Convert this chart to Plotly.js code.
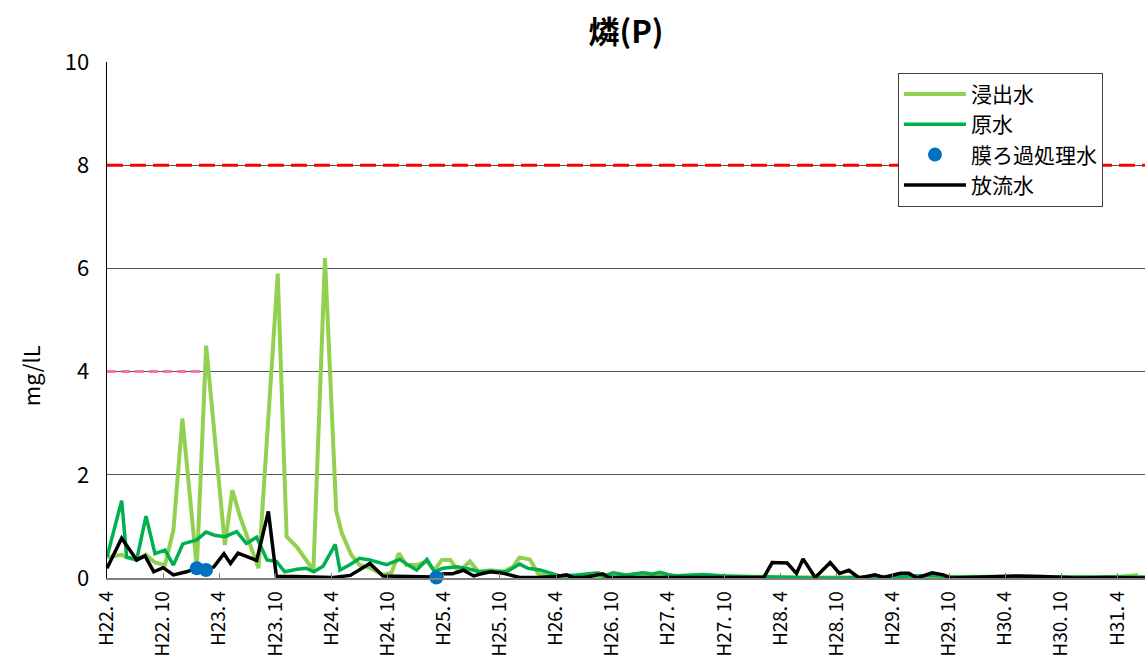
<!DOCTYPE html>
<html>
<head>
<meta charset="utf-8">
<script src="https://cdn.plot.ly/plotly-3.0.1.min.js"></script>
<style>html,body{margin:0;padding:0;background:#fff;}#chart{width:1145px;height:657px;}</style>
</head>
<body>
<div id="chart"></div>
<script>
// x values: months elapsed since H22.4
const tickLabels = ["H22. 4","H22. 10","H23. 4","H23. 10","H24. 4","H24. 10","H25. 4","H25. 10","H26. 4","H26. 10","H27. 4","H27. 10","H28. 4","H28. 10","H29. 4","H29. 10","H30. 4","H30. 10","H31. 4"];
const tickMonths = [0,6,12,18,24,30,36,42,48,54,60,66,72,78,84,90,96,102,108];

// 浸出水
const leachX = [0,1.57,2.1,3.17,4.17,5.13,6.2,7.1,8.06,9.6,10.6,12.6,13.4,14.2,16.2,18.25,19.2,20.3,22.06,23.3,24.5,25.1,26.1,27,28.1,29.5,30.4,31.2,32,33.1,34.2,35,35.8,36.7,37.6,38.8,39.7,41,42.4,43.4,44.1,45.2,46.1,47.4,48.5,50,52,54,56,58,59,61,64,67,70,73,76,79,82,85,88,91,94,97,100,103,106,108.5,110.2];
const leachY = [0.4,0.45,0.4,0.35,0.45,0.3,0.25,0.93,3.09,0.2,4.5,0.64,1.7,1.2,0.19,5.9,0.8,0.6,0.15,6.2,1.3,0.87,0.45,0.25,0.2,0.06,0.1,0.48,0.25,0.25,0.32,0.15,0.35,0.35,0.12,0.32,0.12,0.15,0.12,0.22,0.4,0.36,0.08,0.03,0.03,0.02,0.02,0.03,0.02,0.05,0.08,0.04,0.05,0.03,0.02,0.02,0.01,0.01,0.02,0.02,0.04,0.02,0.03,0.03,0.02,0.02,0.01,0.03,0.06];

// 原水
const rawX = [0,1.57,2.1,3.17,4.17,5.13,6.2,7.1,8.1,9.6,10.58,11.5,12.6,13.86,14.9,16,17.1,18.1,19,20.3,21.3,22.1,23.1,24.4,24.9,26,27,28.1,29.9,31.3,32.2,33.1,34.2,35,35.9,37.4,38.8,39.8,41,42.7,44.1,45,46.3,47.4,48.4,50.2,52.5,53,54.1,55.5,57.3,58.3,59.1,60.5,63.7,66,68,70.2,72,75,78,80.5,83,86,88.4,90,93,96,99,102,105,108,111];
const rawY = [0.41,1.5,0.41,0.35,1.2,0.47,0.54,0.25,0.66,0.74,0.89,0.83,0.8,0.9,0.67,0.79,0.35,0.32,0.12,0.17,0.19,0.12,0.23,0.65,0.155,0.26,0.38,0.35,0.26,0.36,0.25,0.155,0.36,0.12,0.19,0.22,0.17,0.12,0.13,0.12,0.27,0.19,0.155,0.09,0.04,0.06,0.1,0.03,0.1,0.06,0.1,0.08,0.11,0.04,0.07,0.04,0.03,0.02,0,0,0,0.01,0.03,0.03,0.05,0.02,0.02,0.01,0.02,0.01,0.01,0.01,0.02];

// 膜ろ過処理水
const membraneX = [9.6,10.58,35.2];
const membraneY = [0.19,0.155,0.01];

// 放流水
const outX = [0,1.57,3.17,4.06,5.0,6.0,7.1,8.5,9.6,11.4,12.5,13.2,14.0,16.0,17.25,18.1,20,22,24.2,26,28.1,29.5,31,33,35,36,36.9,38.1,39.2,40,41,42.4,44.1,46,48,49.1,49.8,51,53,53.6,55,58,62,66,70.2,71.1,72.7,73.7,74.4,75.7,77.3,78.3,79.3,80.4,82.1,83,84.8,85.7,86.6,88.2,89.4,90.2,93,97.2,100,103.6,107,111];
const outY = [0.19,0.77,0.35,0.43,0.12,0.2,0.06,0.12,0.19,0.21,0.47,0.28,0.48,0.34,1.29,0.03,0.03,0.02,0.01,0.05,0.28,0.04,0.03,0.02,0.02,0.08,0.08,0.15,0.04,0.08,0.12,0.09,0.01,0.01,0.03,0.06,0.01,0.01,0.08,0.01,0.01,0.01,0.01,0.01,0.01,0.3,0.29,0.09,0.37,0.01,0.3,0.09,0.15,0,0.06,0.01,0.09,0.09,0,0.1,0.06,0,0.01,0.04,0.03,0,0.01,0];

// reference (standard) lines
const std8X = [0,111];
const std8Y = [8,8];
const std4X = [0,10.4];
const std4Y = [4,4];

const jp = '"Noto Sans CJK JP", "Noto Sans", sans-serif';

const traces = [
  {x: std8X, y: std8Y, mode:'lines', line:{color:'#FF0000', width:3, dash:'16px,7px'}, showlegend:false, hoverinfo:'skip'},
  {x: std4X, y: std4Y, mode:'lines', line:{color:'#FF6FA8', width:3, dash:'9px,5px'}, showlegend:false, hoverinfo:'skip'},
  {x: leachX, y: leachY, name:'浸出水', mode:'lines', line:{color:'#92D050', width:4}, legendrank:1, legendgroup:'a'},
  {x: rawX, y: rawY, name:'原水', mode:'lines', line:{color:'#00B050', width:3.5}, legendrank:2, legendgroup:'b'},
  {x: outX, y: outY, name:'放流水', mode:'lines', line:{color:'#000000', width:3.5}, legendrank:4, legendgroup:'d'},
  {x: membraneX, y: membraneY, name:'膜ろ過処理水', mode:'markers', marker:{color:'#0070C0', size:14}, cliponaxis:false, legendrank:3, legendgroup:'c'}
];

const layout = {
  width:1145, height:657,
  margin:{l:107, r:0, t:62, b:79},
  paper_bgcolor:'#fff', plot_bgcolor:'#fff',
  title:{text:'<b>燐(P)</b>', x:0.5, xref:'paper', xanchor:'center', y:0.951, yref:'container', yanchor:'middle', font:{family:jp, size:31, color:'#000'}},
  font:{family:jp, color:'#000'},
  xaxis:{
    range:[0,110.95], tickmode:'array', tickvals:tickMonths, ticktext:tickLabels,
    tickangle:-90, ticks:'inside', ticklen:5, tickcolor:'#808080', tickwidth:1,
    showgrid:false, zeroline:false, showline:true, linecolor:'#808080', linewidth:1.5,
    tickfont:{family:jp, size:19, color:'#000'}, ticklabelstandoff:4
  },
  yaxis:{
    range:[0,10], dtick:2, tickmode:'linear', tick0:0,
    showgrid:true, gridcolor:'#555555', gridwidth:1, zeroline:false,
    showline:true, linecolor:'#000', linewidth:1.5, ticks:'',
    tickfont:{family:jp, size:22, color:'#000'}, ticklabelstandoff:12
  },
  annotations:[{
    text:'mg/lL', textangle:-90, xref:'paper', yref:'paper', x:-0.0742, y:0.393,
    xanchor:'center', yanchor:'middle', showarrow:false,
    font:{family:jp, size:22, color:'#000'}
  }],
  showlegend:true,
  legend:{x:0.762, xanchor:'left', y:0.979, yanchor:'top', bgcolor:'#fff', bordercolor:'#404040', borderwidth:1,
    font:{family:jp, size:21, color:'#000'}, tracegroupgap:7, traceorder:'normal', itemwidth:62}
};

Plotly.newPlot('chart', traces, layout, {displayModeBar:false, staticPlot:true});
</script>
</body>
</html>
